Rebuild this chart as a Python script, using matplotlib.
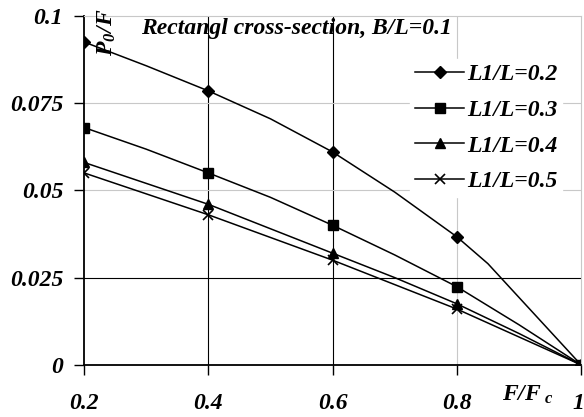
import numpy as np
import matplotlib
matplotlib.use("Agg")
import matplotlib.pyplot as plt
from matplotlib.transforms import ScaledTranslation

plt.rcParams['font.family'] = 'Liberation Serif'
plt.rcParams['font.weight'] = 'bold'
plt.rcParams['font.style'] = 'italic'
plt.rcParams['mathtext.fontset'] = 'custom'
plt.rcParams['mathtext.rm'] = 'Liberation Serif:bold:italic'
plt.rcParams['mathtext.it'] = 'Liberation Serif:bold:italic'

# Donnees (F/Fc -> P0/F)
x_a = [0.2, 0.3, 0.4, 0.5, 0.6, 0.7, 0.8, 0.85, 1.0]
y_02 = [0.0925, 0.0857, 0.0785, 0.0705, 0.061, 0.0495, 0.0367, 0.029, 0.0]
x_b = [0.2, 0.3, 0.4, 0.5, 0.6, 0.7, 0.8, 0.9, 1.0]
y_03 = [0.068, 0.0618, 0.055, 0.048, 0.040, 0.0315, 0.0224, 0.0115, 0.0]
y_04 = [0.058, 0.052, 0.046, 0.039, 0.032, 0.025, 0.0175, 0.009, 0.0]
y_05 = [0.055, 0.049, 0.043, 0.0365, 0.030, 0.023, 0.016, 0.008, 0.0]
x_ticks = [0.2, 0.4, 0.6, 0.8, 1.0]
x_labels = ['0.2', '0.4', '0.6', '0.8', '1']
y_ticks = [0, 0.025, 0.05, 0.075, 0.1]
y_labels = ['0', '0.025', '0.05', '0.075', '0.1']

fig = plt.figure(figsize=(5.84, 4.17), dpi=100)
ax = fig.add_axes([0.144, 0.125, 0.851, 0.837])

# grille (certaines lignes plus foncees comme sur l'original)
for xv, c in [(0.4, 'black'), (0.6, 'black'), (0.8, '#c8c8c8')]:
    ax.axvline(xv, color=c, lw=0.8, zorder=0)
for yv, c in [(0.025, 'black'), (0.05, '#c8c8c8'), (0.075, '#c8c8c8')]:
    ax.axhline(yv, color=c, lw=0.8, zorder=0)

mk = [0, 2, 4, 6, 8]
ax.plot(x_a, y_02, color='black', lw=1.1, marker='D', ms=6, markevery=mk, label='L1/L=0.2')
ax.plot(x_b, y_03, color='black', lw=1.1, marker='s', ms=7, markevery=mk, label='L1/L=0.3')
ax.plot(x_b, y_04, color='black', lw=1.1, marker='^', ms=7, markevery=mk, label='L1/L=0.4')
ax.plot(x_b, y_05, color='black', lw=1.1, marker='x', ms=7, mew=1.2, markevery=mk, label='L1/L=0.5')

ax.set_xlim(0.2, 1.0)
ax.set_ylim(0, 0.1)
ax.set_xticks(x_ticks)
ax.set_xticklabels(x_labels)
ax.set_yticks(y_ticks)
ax.set_yticklabels(y_labels)
ax.tick_params(axis='both', labelsize=17, direction='out', length=7, width=1)
ax.tick_params(axis='x', pad=13)
ax.tick_params(axis='y', pad=8)
for lab in ax.get_xticklabels() + ax.get_yticklabels():
    lab.set_fontweight('bold')
    lab.set_fontstyle('italic')
# le "1" a droite est un peu decale pour rester visible
last = ax.get_xticklabels()[-1]
last.set_transform(last.get_transform() + ScaledTranslation(-0.03, 0, fig.dpi_scale_trans))

ax.spines['left'].set_linewidth(1.3)
ax.spines['bottom'].set_linewidth(1.3)
ax.spines['top'].set_color('#c8c8c8')
ax.spines['right'].set_color('#c8c8c8')

ax.text(0.292, 0.0965, 'Rectangl cross-section, B/L=0.1', fontsize=17, va='center', ha='left')
ax.text(0.236, 0.0885, r'$\mathrm{P_{0}/F}$', fontsize=17, rotation=90, va='bottom', ha='center')
ax.text(0.872, -0.0085, r'$\mathrm{F/F_{\ c}}$', fontsize=17, va='center', ha='left')

leg = ax.legend(loc='upper right', bbox_to_anchor=(0.985, 0.91), frameon=True, fontsize=17,
                handlelength=2.1, handletextpad=0.1, labelspacing=0.6, borderpad=0.2)
leg.get_frame().set_edgecolor('white')
leg.get_frame().set_facecolor('white')
leg.get_frame().set_alpha(1)
leg.get_frame().set_boxstyle('square', pad=0)

fig.savefig('out.png', dpi=100)
